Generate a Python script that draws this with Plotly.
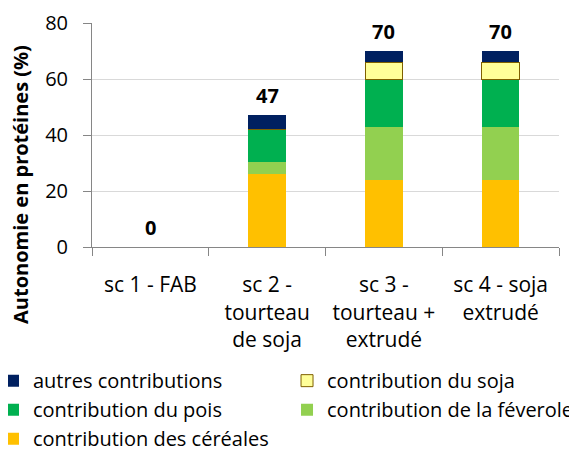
import plotly.graph_objects as go

# scénarios (axe des x)
scenarios = ["sc 1 - FAB", "sc 2 -<br>tourteau<br>de soja", "sc 3 -<br>tourteau +<br>extrudé", "sc 4 - soja<br>extrudé"]

# contributions à l'autonomie en protéines (%), du bas vers le haut de la pile
cereales = [0, 26, 24, 24]
feverole = [0, 4.5, 19, 19]
pois = [0, 11.5, 17, 17]
soja = [0, 0, 6, 6]
autres = [0, 5, 4, 4]
totaux = [0, 47, 70, 70]

# (nom, valeurs, couleur, légende) : deux colonnes de légende comme dans Excel
series = [
    ("contribution des céréales", cereales, "#FFC000", "legend"),
    ("contribution de la féverole", feverole, "#92D050", "legend2"),
    ("contribution du pois", pois, "#00B050", "legend"),
    ("contribution du soja", soja, "#FFFF99", "legend2"),
    ("autres contributions", autres, "#002060", "legend"),
]

FONT = "Open Sans"

fig = go.Figure()
for name, vals, color, leg in series:
    line = dict(width=1, color="#7F6000") if name == "contribution du soja" else dict(width=0)
    fig.add_trace(go.Bar(x=scenarios, y=vals, name=name, legend=leg,
                         marker=dict(color=color, line=line)))

# étiquettes des totaux au-dessus des barres
for sc, tot in zip(scenarios, totaux):
    fig.add_annotation(x=sc, y=tot, text="<b>%d</b>" % tot, showarrow=False,
                       yanchor="bottom", yshift=4, font=dict(size=20, color="black", family=FONT))

# titre de l'axe des y (centré plus bas, comme dans Excel)
fig.add_annotation(x=-0.152, y=0.277, xref="paper", yref="paper", text="<b>Autonomie en protéines (%)</b>",
                   textangle=-90, showarrow=False, xanchor="center", yanchor="middle",
                   font=dict(size=20, color="black", family=FONT))

leg_style = dict(orientation="v", traceorder="reversed", xref="paper", yref="container",
                 xanchor="left", yanchor="top", font=dict(size=20), tracegroupgap=0)

# la page ajoute 8 px de marge : marges décalées d'autant
fig.update_layout(
    width=577, height=452,
    barmode="stack", bargap=0.68,
    plot_bgcolor="white", paper_bgcolor="white",
    font=dict(family=FONT, size=20, color="black"),
    margin=dict(l=84, r=26, t=15, b=213, autoexpand=False),
    showlegend=True,
    legend=dict(x=-0.212, y=0.2187, **leg_style),
    legend2=dict(x=0.4176, y=0.2187, **leg_style),
)
fig.update_xaxes(showline=True, linecolor="#868686", ticks="outside", tickson="boundaries",
                 ticklen=8, tickcolor="#868686", showgrid=False, ticklabelstandoff=19,
                 tickfont=dict(size=21))
fig.update_yaxes(range=[0, 80], dtick=20, showline=True, linecolor="#868686", ticks="outside",
                 ticklen=8, tickcolor="#868686", gridcolor="#D9D9D9", zeroline=False,
                 ticklabelstandoff=11)

fig.write_html("out.html")
